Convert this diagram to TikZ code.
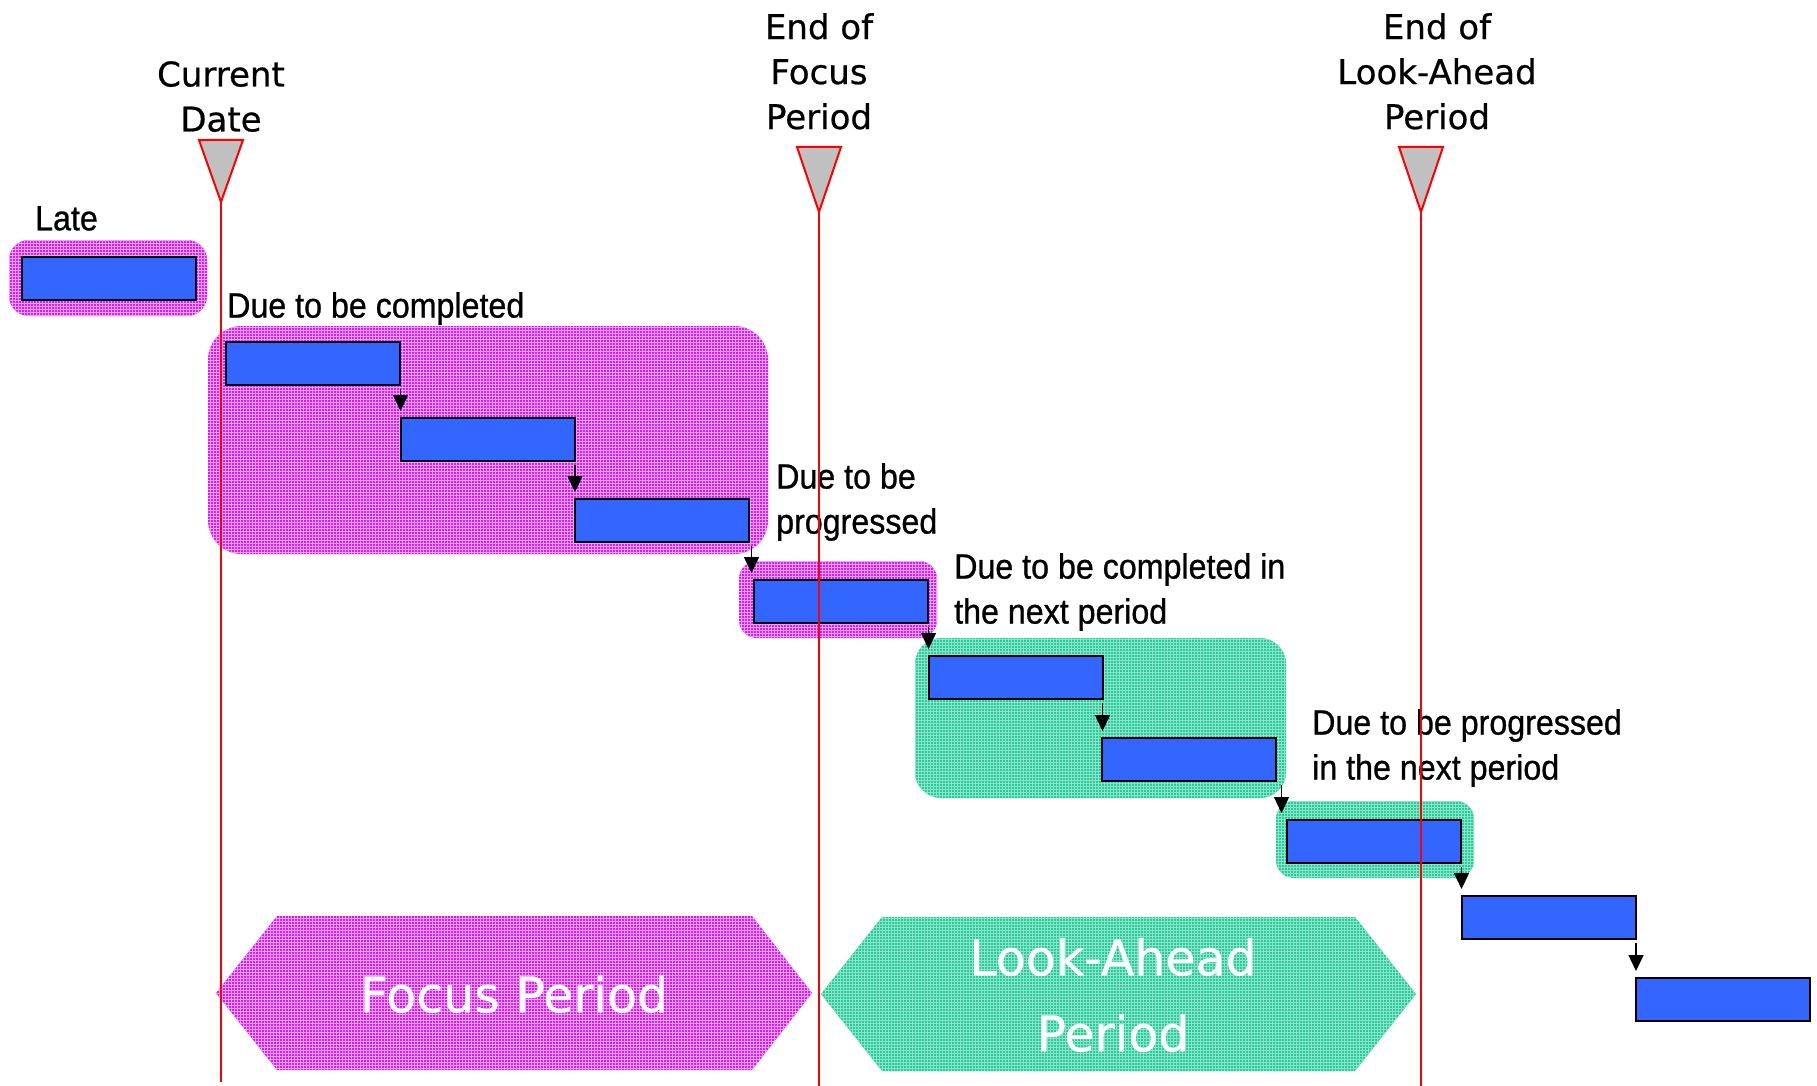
\documentclass[tikz,border=0pt]{standalone}
\usepackage{fontspec}
\setmainfont[FakeBold=0.6]{DejaVu Sans}
\newfontfamily\headfont[FakeBold=0.6]{DejaVu Sans}
\newfontfamily\labelfont[FakeStretch=0.92,FakeBold=0.8]{Liberation Sans}
\usetikzlibrary{arrows.meta,patterns,calc}

\definecolor{taskblue}{RGB}{51,102,255}
\definecolor{markgray}{RGB}{192,192,192}
\definecolor{zonemag}{RGB}{210,30,255}
\definecolor{zonemagline}{RGB}{240,160,255}
\definecolor{zonegreen}{RGB}{38,204,154}
\definecolor{zonegreenline}{RGB}{140,228,200}

\tikzset{
  task/.style={draw=black, line width=2pt, fill=taskblue, minimum width=174pt,
    minimum height=43pt, inner sep=0pt, anchor=north west},
  link/.style={-{Triangle[width=15pt,length=16pt]}, line width=1.5pt},
  markertri/.style={fill=markgray, draw=red, line width=2pt, line join=miter},
  dateline/.style={red, line width=1.5pt},
  zoneM/.style={preaction={fill=zonemag}, pattern=grid, pattern color=zonemagline},
  zoneG/.style={preaction={fill=zonegreen}, pattern=grid, pattern color=zonegreenline},
  heading/.style={font={\headfont\fontsize{34}{45}\selectfont}, align=center, inner sep=0pt, anchor=north},
  tag/.style={font={\labelfont\fontsize{35}{45}\selectfont}, align=left, inner sep=0pt, anchor=north west},
  periodtext/.style={font={\headfont\fontsize{49}{76}\selectfont}, text=white, align=center, inner sep=0pt}
}

% vertical arrow between two consecutive tasks
\newcommand\taskLink[2]{%
  \draw[link] let \p1=(#1.south east), \p2=(#2.north west) in
    ({(\x1+\x2)/2},{\y1-3pt}) -- ({(\x1+\x2)/2},{\y2+6pt});}

\begin{document}
\begin{tikzpicture}[x=1pt,y=-1pt]
\useasboundingbox (0,0) rectangle (1817,1086);

% highlighted groups of tasks
\path[zoneM, rounded corners=20pt] (9,240) rectangle (207,316);
\path[zoneM, rounded corners=34pt] (208,326) rectangle (768,554);
\path[zoneM, rounded corners=18pt] (739,561) rectangle (937,638);
\path[zoneG, rounded corners=26pt] (915,638) rectangle (1286,798);
\path[zoneG, rounded corners=18pt] (1276,801) rectangle (1474,878);

% period banners
\path[zoneM] (216,993) -- (277,916) -- (752,916) -- (812,993) -- (752,1070) -- (277,1070) -- cycle;
\path[zoneG] (821,994) -- (882,917) -- (1355,917) -- (1416,994) -- (1355,1071) -- (882,1071) -- cycle;
\node[periodtext] (focus) at (514,994) {Focus Period};
\node[periodtext] (lookahead) at (1113,995) {Look-Ahead\\Period};

% tasks
\node[task] (t1) at (21,256) {};
\node[task] (t2) at (225,341) {};
\node[task] (t3) at (400,417) {};
\node[task] (t4) at (574,498) {};
\node[task] (t5) at (753,579) {};
\node[task] (t6) at (928,655) {};
\node[task] (t7) at (1101,737) {};
\node[task] (t8) at (1286,819) {};
\node[task] (t9) at (1461,895) {};
\node[task] (t10) at (1635,977) {};

% dependencies
\taskLink{t2}{t3}
\taskLink{t3}{t4}
\taskLink{t4}{t5}
\taskLink{t5}{t6}
\taskLink{t6}{t7}
\taskLink{t7}{t8}
\taskLink{t8}{t9}
\taskLink{t9}{t10}

% group labels
\node[tag] (late) at (35,206) {Late};
\node[tag] (duec) at (227,292) {Due to be completed};
\node[tag] (duep) at (776,463) {Due to be\\progressed};
\node[tag] (duecn) at (954,553) {Due to be completed in\\the next period};
\node[tag] (duepn) at (1312,709) {Due to be progressed\\in the next period};

% date markers
\node[heading] (curdate) at (221,61) {Current\\Date};
\node[heading] (endfocus) at (819,13) {End of\\Focus\\Period};
\node[heading] (endlook) at (1437,13) {End of\\Look-Ahead\\Period};

\coordinate (cdTip) at (221,202);
\coordinate (cdEnd) at (221,1082);
\coordinate (efTip) at (819,212);
\coordinate (efEnd) at (819,1086);
\coordinate (elTip) at (1421,212);
\coordinate (elEnd) at (1421,1086);

\draw[dateline] (cdTip) -- (cdEnd);
\draw[dateline] (efTip) -- (efEnd);
\draw[dateline] (elTip) -- (elEnd);

\draw[markertri] (cdTip) -- ++(-22,-62) -- ++(44,0) -- cycle;
\draw[markertri] (efTip) -- ++(-22,-65) -- ++(44,0) -- cycle;
\draw[markertri] (elTip) -- ++(-22,-65) -- ++(44,0) -- cycle;
\end{tikzpicture}
\end{document}
